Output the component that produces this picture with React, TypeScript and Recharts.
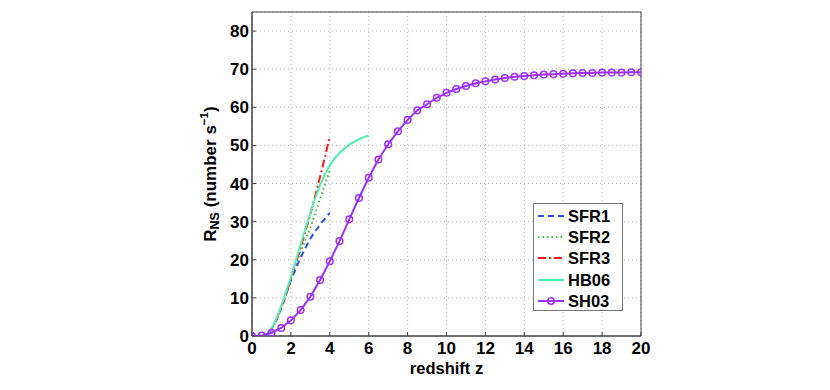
import React from 'react';
import { LineChart, Line, XAxis, YAxis, CartesianGrid, Legend, ReferenceArea } from 'recharts';

const FONT = '"Liberation Sans", Arial, Helvetica, sans-serif';

const X_TICKS = [0, 2, 4, 6, 8, 10, 12, 14, 16, 18, 20];
const Y_TICKS = [0, 10, 20, 30, 40, 50, 60, 70, 80];

// SFR models, z = 0 .. 4
const SFR_Z = [0, 0.5, 1, 1.5, 2, 2.5, 3, 3.5, 4];
const SFR1 = [0, 0, 1.8, 7.3, 14.5, 20.5, 25.5, 29.2, 32.3];
const SFR2 = [0, 0, 1.8, 7.5, 15, 22, 28.5, 36, 43.5];
const SFR3 = [0, 0, 1.8, 7.5, 15, 23.2, 32, 41.8, 52.3];

// HB06, z = 0 .. 6
const HB06_Z = [0, 0.5, 1, 1.5, 2, 2.5, 3, 3.5, 4, 4.5, 5, 5.5, 6];
const HB06 = [0, 0, 2.0, 7.8, 15.5, 24, 32.3, 39.6, 44.8, 48, 50.2, 51.6, 52.6];

// SH03, z = 0 .. 20 in steps of 0.5
const SH03_Z = [
  0, 0.5, 1, 1.5, 2, 2.5, 3, 3.5, 4, 4.5, 5, 5.5, 6, 6.5, 7, 7.5, 8, 8.5, 9, 9.5, 10,
  10.5, 11, 11.5, 12, 12.5, 13, 13.5, 14, 14.5, 15, 15.5, 16, 16.5, 17, 17.5, 18, 18.5, 19, 19.5, 20,
];
const SH03 = [
  0, 0.1, 0.85, 2.1, 4.1, 6.8, 10.3, 14.7, 19.6, 24.9, 30.6, 36.2, 41.5, 46.3, 50.3, 53.7, 56.7, 59.2,
  60.8, 62.5, 63.8, 64.8, 65.6, 66.3, 66.8, 67.3, 67.7, 68.0, 68.2, 68.4, 68.6, 68.7, 68.8, 68.9, 69.0,
  69.0, 69.1, 69.1, 69.1, 69.2, 69.2,
];

const toPoints = (zs: number[], vs: number[]) => zs.map((z, i) => ({ z, v: vs[i] }));

const SERIES = [
  { name: 'SFR1', color: '#2a4dff', dash: '6 4', data: toPoints(SFR_Z, SFR1) },
  { name: 'SFR2', color: '#3ec43a', dash: '1.5 3', data: toPoints(SFR_Z, SFR2) },
  { name: 'SFR3', color: '#ff1a1a', dash: '8 3 2 3', data: toPoints(SFR_Z, SFR3) },
  { name: 'HB06', color: '#4ff0b0', dash: undefined, data: toPoints(HB06_Z, HB06) },
];
const SH03_COLOR = '#9b30ff';
const FRAME = '#404040';

const tickStyle = { fill: '#000', fontSize: 17, fontWeight: 'bold', fontFamily: FONT };

function LegendBox() {
  const rows = [...SERIES.map((s) => ({ name: s.name, color: s.color, dash: s.dash, marker: false })),
    { name: 'SH03', color: SH03_COLOR, dash: undefined, marker: true }];
  return (
    <div
      style={{
        width: 90,
        height: 108,
        border: '1px solid #777',
        background: '#fff',
        padding: '1px 0 0 3px',
        boxSizing: 'border-box',
        fontFamily: FONT,
        fontWeight: 'bold',
        fontSize: 16.5,
      }}
    >
      {rows.map((r) => (
        <div key={r.name} style={{ display: 'flex', alignItems: 'center', height: 21.3 }}>
          <svg width={28} height={12} style={{ marginRight: 3 }}>
            <line x1={1} y1={6} x2={27} y2={6} stroke={r.color} strokeWidth={2} strokeDasharray={r.dash} />
            {r.marker && <circle cx={14} cy={6} r={3.2} fill="none" stroke={r.color} strokeWidth={1.5} />}
          </svg>
          <span style={{ color: '#000', lineHeight: '16px' }}>{r.name}</span>
        </div>
      ))}
    </div>
  );
}

function YLabel() {
  return (
    <text
      x={210}
      y={174}
      transform="rotate(-90, 210, 174)"
      textAnchor="middle"
      dominantBaseline="central"
      fontFamily={FONT}
      fontWeight="bold"
      fontSize={17}
      fill="#000"
    >
      R<tspan fontSize={12.5} dy={5}>NS</tspan>
      <tspan dy={-5}> (number s</tspan>
      <tspan fontSize={11.5} dy={-6}>−1</tspan>
      <tspan dy={6}>)</tspan>
    </text>
  );
}

function XLabel() {
  return (
    <text x={446.5} y={374} textAnchor="middle" fontFamily={FONT} fontWeight="bold" fontSize={16.5} fill="#000">
      redshift z
    </text>
  );
}

export default function App() {
  return (
    <div style={{ position: 'absolute', left: 0, top: 0 }}>
      <LineChart width={830} height={390} margin={{ top: 12, right: 189, bottom: 24, left: 212 }}>
        <CartesianGrid strokeDasharray="1 3" stroke="#b5b5b5" />
        <ReferenceArea x1={0} x2={20} y1={0} y2={85} fill="none" stroke={FRAME} strokeWidth={1} />
        <XAxis
          dataKey="z"
          type="number"
          domain={[0, 20]}
          ticks={X_TICKS}
          interval={0}
          height={30}
          tickSize={-4}
          tickMargin={10}
          tick={tickStyle}
          stroke={FRAME}
          allowDataOverflow
          label={<XLabel />}
        />
        <XAxis
          xAxisId="top"
          orientation="top"
          type="number"
          domain={[0, 20]}
          ticks={X_TICKS}
          height={0}
          tickSize={-4}
          tick={false}
          stroke={FRAME}
        />
        <YAxis
          type="number"
          domain={[0, 85]}
          ticks={Y_TICKS}
          interval={0}
          width={40}
          tickSize={-4}
          tickMargin={7}
          tick={tickStyle}
          stroke={FRAME}
          allowDataOverflow
          label={<YLabel />}
        />
        <YAxis
          yAxisId="right"
          orientation="right"
          type="number"
          domain={[0, 85]}
          ticks={Y_TICKS}
          width={0}
          tickSize={-4}
          tick={false}
          stroke={FRAME}
        />
        {SERIES.map((s) => (
          <Line
            key={s.name}
            data={s.data}
            dataKey="v"
            name={s.name}
            type="monotone"
            stroke={s.color}
            strokeWidth={2}
            strokeDasharray={s.dash}
            dot={false}
            isAnimationActive={false}
          />
        ))}
        <Line
          data={toPoints(SH03_Z, SH03)}
          dataKey="v"
          name="SH03"
          type="linear"
          stroke={SH03_COLOR}
          strokeWidth={2}
          dot={{ r: 3.3, fill: 'none', stroke: SH03_COLOR, strokeWidth: 1.5 }}
          isAnimationActive={false}
        />
        <Legend
          layout="vertical"
          align="center"
          verticalAlign="middle"
          content={() => <LegendBox />}
          wrapperStyle={{ left: 533, top: 203, width: 90, height: 108 }}
        />
      </LineChart>
    </div>
  );
}
